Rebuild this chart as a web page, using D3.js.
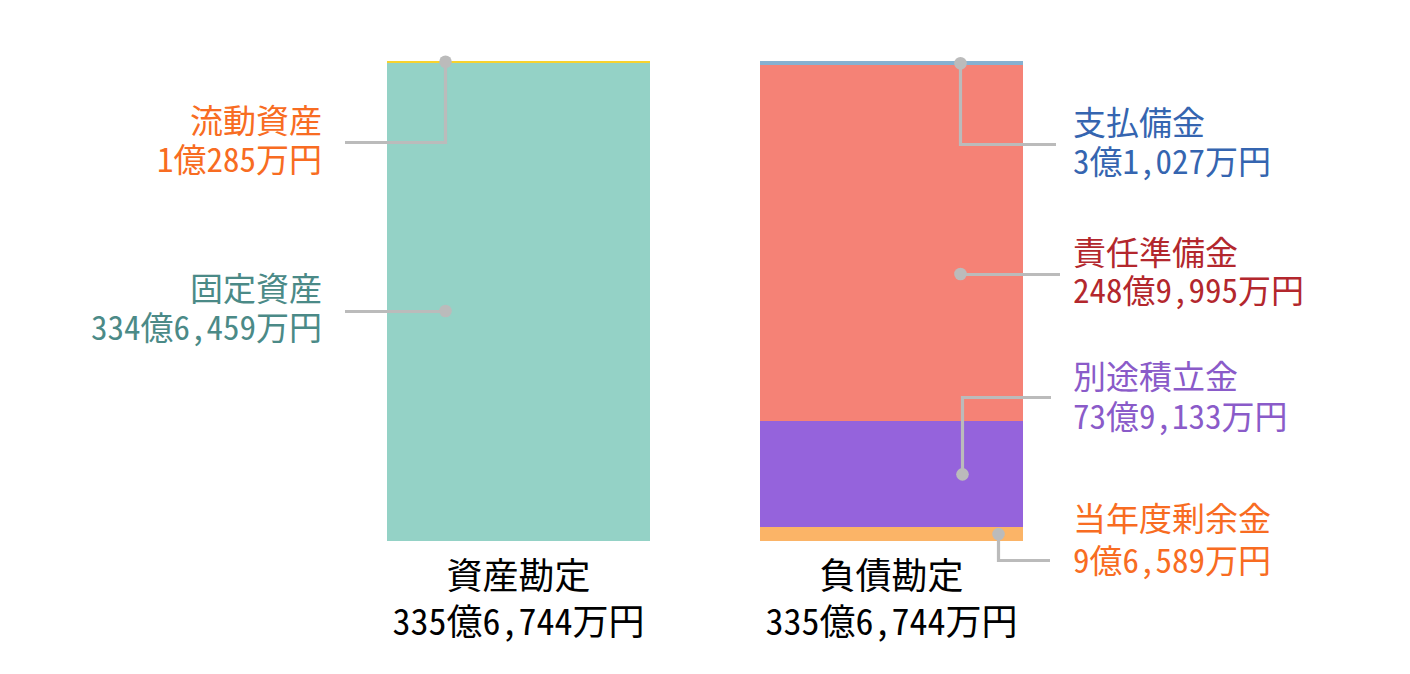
<!DOCTYPE html>
<html><head><meta charset="utf-8">
<script src="https://cdn.jsdelivr.net/npm/d3@7"></script>
<style>
html,body{margin:0;padding:0;background:#fff;}
svg{display:block;}
text{font-family:"Noto Sans CJK JP","Noto Sans CJK SC",sans-serif;font-feature-settings:"hwid";}
</style></head>
<body>
<svg id="c" width="1410" height="674"></svg>
<script>
// ---- data (units: 万円) ----
const accounts = ["資産勘定", "負債勘定"];
const assetNames = ["流動資産", "固定資産"];          // top -> bottom
const assetValues = [10285, 3346459];
const liabNames = ["支払備金", "責任準備金", "別途積立金", "当年度剰余金"]; // top -> bottom
const liabValues = [31027, 2489995, 739133, 96589];

// ---- styles / layout ----
const assetFill = ["#f7d22e", "#94d2c6"];
const assetText = ["#f86c22", "#4b8a87"];
const liabFill = ["#86b1d1", "#f58276", "#9563dc", "#fbb467"];
const liabText = ["#3565b0", "#b3272d", "#8a5bc9", "#f86c22"];
// leader layout: dot x offset from bar left, leader y, end x, text offsets
const assetLayout = [
  {dx: 58, ly: 142, ex: 345, t: -9, v: 30, atSeg: true},
  {dx: 58, ly: 311, ex: 345, t: -10, v: 29, atSeg: false}
];
const liabLayout = [
  {dx: 200, ly: 144, ex: 1056, t: -9, v: 30, atSeg: true},
  {dx: 200, ly: 274, ex: 1060, t: -9, v: 29, atSeg: false},
  {dx: 202, ly: 397, ex: 1051, t: -8, v: 32, atSeg: true},
  {dx: 238, ly: 560, ex: 1050, t: -29, v: 13, atSeg: true}
];

const svg = d3.select("#c");
const fmt = v => Math.floor(v / 10000) + "億" + d3.format(",")(v % 10000) + "万円";

const x = d3.scaleBand().domain(accounts).range([387, 1023]).paddingInner(0.295).paddingOuter(0);
const total = d3.sum(assetValues);
const y = d3.scaleLinear().domain([0, total]).range([541, 61]);

function drawStack(acc, names, values, fills, texts, layout, side) {
  const x0 = x(acc), bw = x.bandwidth();
  let top = total;
  const segs = names.map((n, i) => {
    const s = {name: n, value: values[i], hi: top, lo: top - values[i], i};
    top -= values[i];
    return s;
  });
  // draw bottom segments first so thin top segments stay visible
  svg.append("g").attr("shape-rendering", "crispEdges")
    .selectAll("rect").data(segs.slice().reverse()).join("rect")
    .attr("x", x0).attr("width", bw)
    .attr("y", d => Math.floor(y(d.hi))).attr("height", d => Math.max(Math.round(y(d.lo) - Math.floor(y(d.hi))), 2))
    .attr("fill", d => fills[d.i]);

  const g = svg.append("g");
  segs.forEach(d => {
    const L = layout[d.i];
    const dxp = Math.round(x0 + L.dx) + 0.5;
    const dyp = L.atSeg ? (y(d.hi) + y(d.lo)) / 2 : L.ly;
    g.append("path")
      .attr("d", d3.line()([[dxp, dyp], [dxp, L.ly + 0.5], [L.ex, L.ly + 0.5]]))
      .attr("fill", "none").attr("stroke", "#bbbbbb").attr("stroke-width", 3.2);
    g.append("circle").attr("cx", dxp).attr("cy", dyp).attr("r", 6.3).attr("fill", "#bbbbbb");
    const tx = side === "left" ? 322 : 1073;
    const anchor = side === "left" ? "end" : "start";
    g.append("text").attr("x", tx).attr("y", L.ly + L.t).attr("text-anchor", anchor)
      .attr("font-size", 33).attr("fill", texts[d.i]).text(d.name);
    g.append("text").attr("x", tx).attr("y", L.ly + L.v).attr("text-anchor", anchor)
      .attr("font-size", 33).attr("fill", texts[d.i]).text(fmt(d.value));
  });

  const cx = x0 + bw / 2;
  svg.append("text").attr("x", cx).attr("y", 589).attr("text-anchor", "middle")
    .attr("font-size", 36).attr("fill", "#000").text(acc);
  svg.append("text").attr("x", cx).attr("y", 635).attr("text-anchor", "middle")
    .attr("font-size", 36).attr("fill", "#000").text(fmt(d3.sum(values)));
}

drawStack(accounts[0], assetNames, assetValues, assetFill, assetText, assetLayout, "left");
drawStack(accounts[1], liabNames, liabValues, liabFill, liabText, liabLayout, "right");
</script>
</body></html>
